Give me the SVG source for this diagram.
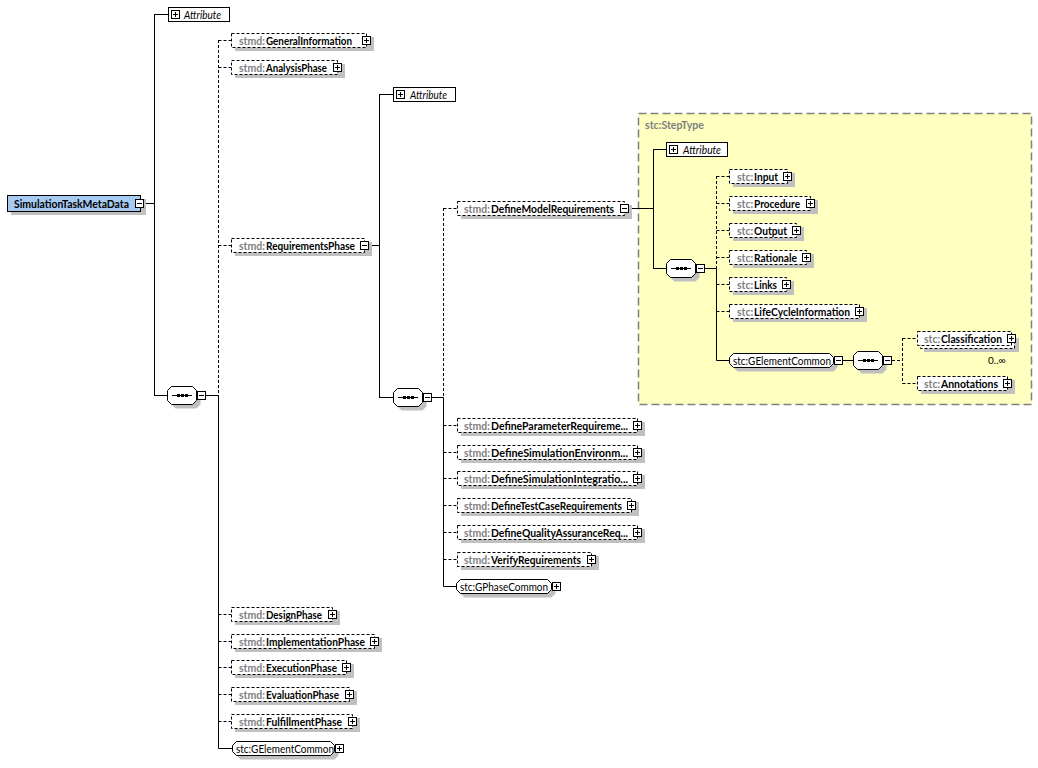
<svg xmlns="http://www.w3.org/2000/svg" xmlns:xlink="http://www.w3.org/1999/xlink" width="1038" height="768" viewBox="0 0 1038 768">
<style>
.ln{stroke:#000;stroke-width:1;fill:none}
.dl{stroke:#000;stroke-width:1;fill:none;stroke-dasharray:3 2}
.sh{fill:#c0c0c0}
.el{fill:#fff;stroke:#000;stroke-width:1;stroke-dasharray:3 2}
.gr{fill:#fff;stroke:#000;stroke-width:1}
.at{fill:#fff;stroke:#000;stroke-width:1}
.t{font-family:Lato,"Noto Sans",sans-serif;font-size:11px;font-weight:bold;fill:#000}
.tn{font-family:Lato,"Noto Sans",sans-serif;font-size:11px;fill:#000}
.ti{font-family:Lato,"Noto Sans",sans-serif;font-size:11px;font-style:italic;fill:#000}
.ns{fill:#808080}
.p{font-family:Lato,"Noto Sans",sans-serif;font-size:10.5px;font-weight:bold;fill:#808080}
</style>
<defs>
<g id="pl"><rect x="0.5" y="0.5" width="8" height="8" fill="#fff" stroke="#000"/><path d="M2 4.5h5M4.5 2v5" stroke="#000" fill="none"/></g>
<g id="mi"><rect x="0.5" y="0.5" width="8" height="8" fill="#fff" stroke="#000"/><path d="M2 4.5h5" stroke="#000" fill="none"/></g>
<g id="seq">
<polygon transform="translate(4,4)" class="sh" points="4.5,0.5 25.5,0.5 29.5,4.5 29.5,14.5 25.5,18.5 4.5,18.5 0.5,14.5 0.5,4.5"/>
<polygon class="gr" points="4.5,0.5 25.5,0.5 29.5,4.5 29.5,14.5 25.5,18.5 4.5,18.5 0.5,14.5 0.5,4.5"/>
<path d="M5 9.5H25" stroke="#000" fill="none"/>
<rect x="10" y="8" width="3" height="3" fill="#000"/><rect x="14" y="8" width="3" height="3" fill="#000"/><rect x="18" y="8" width="3" height="3" fill="#000"/>
<use href="#mi" x="30" y="5"/>
</g>
</defs>
<rect width="1038" height="768" fill="#fff"/>

<g id="steptype-box">
<rect x="638.5" y="113.5" width="393" height="291" fill="#ffffc0" stroke="#808080" stroke-width="1.5" stroke-dasharray="8 4"/>
<text class="t ns" x="645" y="129" textLength="59" lengthAdjust="spacingAndGlyphs">stc:StepType</text>
</g>

<g id="connectors">
<path class="ln" d="M144 203.5H154.5M154.5 14V395.5M154 14.5H168M154 395.5H167"/>
<path class="ln" d="M206 395.5H218.5M218.5 395.5V748.5M218.5 748.5H232"/>
<path class="dl" d="M218.5 40V395.5M218.5 40.5H231M218.5 67.5H231M218.5 245.5H231M218.5 614.5H231M218.5 641.5H231M218.5 667.5H231M218.5 694.5H231M218.5 721.5H231"/>
<path class="ln" d="M369 245.5H379.5M379.5 94V397.5M379 94.5H393M379 397.5H393"/>
<path class="ln" d="M432 397.5H443.5M443.5 397.5V586.5M443.5 586.5H456"/>
<path class="dl" d="M443.5 208V397.5M443.5 208.5H457M443.5 425.5H457M443.5 452.5H457M443.5 478.5H457M443.5 505.5H457M443.5 532.5H457M443.5 559.5H457"/>
<path class="ln" d="M629 208.5H653.5M653.5 149V268.5M653 149.5H666M653 268.5H666"/>
<path class="ln" d="M705 268.5H716.5M716.5 268.5V360.5M716.5 360.5H729"/>
<path class="dl" d="M716.5 176V268.5M716.5 176.5H729M716.5 203.5H729M716.5 230.5H729M716.5 257.5H729M716.5 284.5H729M716.5 311.5H729"/>
<path class="ln" d="M843 360.5H853"/>
<path class="dl" d="M892 360.5H902.5M902.5 338V383.5M902.5 338.5H917M902.5 383.5H917"/>
</g>

<g id="n-SimulationTaskMetaData">
<rect class="sh" x="11" y="199" width="135" height="16"/>
<rect x="7.5" y="195.5" width="133" height="16" fill="#a6caf0" stroke="#000"/>
<text class="t" x="14" y="207.5" textLength="115" lengthAdjust="spacingAndGlyphs">SimulationTaskMetaData</text>
<use href="#mi" x="135" y="199"/>
</g>

<g id="n-Attribute1">
<rect class="at" x="168.5" y="7.5" width="61" height="14"/>
<use href="#pl" x="171" y="10"/>
<text class="ti" x="184" y="18.5" textLength="37" lengthAdjust="spacingAndGlyphs">Attribute</text>
</g>

<g id="n-seq1"><use href="#seq" x="167" y="386"/></g>

<g id="n-GeneralInformation">
<rect class="sh" x="235" y="37" width="139" height="14"/>
<rect class="el" x="231.5" y="33.5" width="135" height="14"/>
<text class="p" x="239" y="44.5">stmd:</text>
<text class="t" x="266" y="44.5" textLength="86" lengthAdjust="spacingAndGlyphs">GeneralInformation</text>
<use href="#pl" x="362" y="36"/>
</g>
<g id="n-AnalysisPhase">
<rect class="sh" x="235" y="64" width="110" height="14"/>
<rect class="el" x="231.5" y="60.5" width="106" height="14"/>
<text class="p" x="239" y="71.5">stmd:</text>
<text class="t" x="266" y="71.5" textLength="61" lengthAdjust="spacingAndGlyphs">AnalysisPhase</text>
<use href="#pl" x="333" y="63"/>
</g>
<g id="n-RequirementsPhase">
<rect class="sh" x="235" y="242" width="137" height="14"/>
<rect class="el" x="231.5" y="238.5" width="133" height="14"/>
<text class="p" x="239" y="249.5">stmd:</text>
<text class="t" x="266" y="249.5" textLength="89" lengthAdjust="spacingAndGlyphs">RequirementsPhase</text>
<use href="#mi" x="360" y="241"/>
</g>
<g id="n-DesignPhase">
<rect class="sh" x="235" y="611" width="105" height="14"/>
<rect class="el" x="231.5" y="607.5" width="101" height="14"/>
<text class="p" x="239" y="618.5">stmd:</text>
<text class="t" x="266" y="618.5" textLength="56" lengthAdjust="spacingAndGlyphs">DesignPhase</text>
<use href="#pl" x="328" y="610"/>
</g>
<g id="n-ImplementationPhase">
<rect class="sh" x="235" y="638" width="147" height="14"/>
<rect class="el" x="231.5" y="634.5" width="143" height="14"/>
<text class="p" x="239" y="645.5">stmd:</text>
<text class="t" x="266" y="645.5" textLength="99" lengthAdjust="spacingAndGlyphs">ImplementationPhase</text>
<use href="#pl" x="370" y="637"/>
</g>
<g id="n-ExecutionPhase">
<rect class="sh" x="235" y="664" width="119" height="14"/>
<rect class="el" x="231.5" y="660.5" width="115" height="14"/>
<text class="p" x="239" y="671.5">stmd:</text>
<text class="t" x="266" y="671.5" textLength="71" lengthAdjust="spacingAndGlyphs">ExecutionPhase</text>
<use href="#pl" x="342" y="663"/>
</g>
<g id="n-EvaluationPhase">
<rect class="sh" x="235" y="691" width="122" height="14"/>
<rect class="el" x="231.5" y="687.5" width="118" height="14"/>
<text class="p" x="239" y="698.5">stmd:</text>
<text class="t" x="266" y="698.5" textLength="73" lengthAdjust="spacingAndGlyphs">EvaluationPhase</text>
<use href="#pl" x="345" y="690"/>
</g>
<g id="n-FulfillmentPhase">
<rect class="sh" x="235" y="718" width="125" height="14"/>
<rect class="el" x="231.5" y="714.5" width="121" height="14"/>
<text class="p" x="239" y="725.5">stmd:</text>
<text class="t" x="266" y="725.5" textLength="76" lengthAdjust="spacingAndGlyphs">FulfillmentPhase</text>
<use href="#pl" x="348" y="717"/>
</g>
<g id="n-GElementCommon1">
<polygon class="sh" transform="translate(4,4)" points="236.5,741.5 330.5,741.5 334.5,745.5 334.5,751.5 330.5,755.5 236.5,755.5 232.5,751.5 232.5,745.5"/>
<polygon class="gr" points="236.5,741.5 330.5,741.5 334.5,745.5 334.5,751.5 330.5,755.5 236.5,755.5 232.5,751.5 232.5,745.5"/>
<text class="tn" x="236" y="752.5" textLength="98" lengthAdjust="spacingAndGlyphs">stc:GElementCommon</text>
<use href="#pl" x="335" y="744"/>
</g>

<g id="n-Attribute2">
<rect class="at" x="393.5" y="87.5" width="62" height="14"/>
<use href="#pl" x="396" y="90"/>
<text class="ti" x="410" y="98.5" textLength="37" lengthAdjust="spacingAndGlyphs">Attribute</text>
</g>
<g id="n-seq2"><use href="#seq" x="393" y="388"/></g>

<g id="n-DefineModelRequirements">
<rect class="sh" x="461" y="205" width="171" height="14"/>
<rect class="el" x="457.5" y="201.5" width="167" height="14"/>
<text class="p" x="464" y="212.5">stmd:</text>
<text class="t" x="491" y="212.5" textLength="123" lengthAdjust="spacingAndGlyphs">DefineModelRequirements</text>
<use href="#mi" x="620" y="204"/>
</g>
<g id="n-DefineParameterRequirements">
<rect class="sh" x="461" y="422" width="184" height="14"/>
<rect class="el" x="457.5" y="418.5" width="180" height="14"/>
<text class="p" x="464" y="429.5">stmd:</text>
<text class="t" x="491" y="429.5" textLength="137" lengthAdjust="spacingAndGlyphs">DefineParameterRequireme...</text>
<use href="#pl" x="633" y="421"/>
</g>
<g id="n-DefineSimulationEnvironment">
<rect class="sh" x="461" y="449" width="184" height="14"/>
<rect class="el" x="457.5" y="445.5" width="180" height="14"/>
<text class="p" x="464" y="456.5">stmd:</text>
<text class="t" x="491" y="456.5" textLength="137" lengthAdjust="spacingAndGlyphs">DefineSimulationEnvironm...</text>
<use href="#pl" x="633" y="448"/>
</g>
<g id="n-DefineSimulationIntegration">
<rect class="sh" x="461" y="475" width="184" height="14"/>
<rect class="el" x="457.5" y="471.5" width="180" height="14"/>
<text class="p" x="464" y="482.5">stmd:</text>
<text class="t" x="491" y="482.5" textLength="137" lengthAdjust="spacingAndGlyphs">DefineSimulationIntegratio...</text>
<use href="#pl" x="633" y="474"/>
</g>
<g id="n-DefineTestCaseRequirements">
<rect class="sh" x="461" y="502" width="178" height="14"/>
<rect class="el" x="457.5" y="498.5" width="174" height="14"/>
<text class="p" x="464" y="509.5">stmd:</text>
<text class="t" x="491" y="509.5" textLength="131" lengthAdjust="spacingAndGlyphs">DefineTestCaseRequirements</text>
<use href="#pl" x="627" y="501"/>
</g>
<g id="n-DefineQualityAssuranceRequirements">
<rect class="sh" x="461" y="529" width="184" height="14"/>
<rect class="el" x="457.5" y="525.5" width="180" height="14"/>
<text class="p" x="464" y="536.5">stmd:</text>
<text class="t" x="491" y="536.5" textLength="137" lengthAdjust="spacingAndGlyphs">DefineQualityAssuranceReq...</text>
<use href="#pl" x="633" y="528"/>
</g>
<g id="n-VerifyRequirements">
<rect class="sh" x="461" y="556" width="138" height="14"/>
<rect class="el" x="457.5" y="552.5" width="134" height="14"/>
<text class="p" x="464" y="563.5">stmd:</text>
<text class="t" x="491" y="563.5" textLength="90" lengthAdjust="spacingAndGlyphs">VerifyRequirements</text>
<use href="#pl" x="587" y="555"/>
</g>
<g id="n-GPhaseCommon">
<polygon class="sh" transform="translate(4,4)" points="460.5,579.5 547.5,579.5 551.5,583.5 551.5,589.5 547.5,593.5 460.5,593.5 456.5,589.5 456.5,583.5"/>
<polygon class="gr" points="460.5,579.5 547.5,579.5 551.5,583.5 551.5,589.5 547.5,593.5 460.5,593.5 456.5,589.5 456.5,583.5"/>
<text class="tn" x="460" y="590.5" textLength="88" lengthAdjust="spacingAndGlyphs">stc:GPhaseCommon</text>
<use href="#pl" x="552" y="582"/>
</g>

<g id="n-Attribute3">
<rect class="at" x="666.5" y="142.5" width="61" height="14"/>
<use href="#pl" x="669" y="145"/>
<text class="ti" x="683" y="153.5" textLength="38" lengthAdjust="spacingAndGlyphs">Attribute</text>
</g>
<g id="n-seq3"><use href="#seq" x="666" y="259"/></g>

<g id="n-Input">
<rect class="sh" x="733" y="173" width="62" height="14"/>
<rect class="el" x="729.5" y="169.5" width="58" height="14"/>
<text class="p" x="737" y="180.5">stc:</text>
<text class="t" x="754" y="180.5" textLength="24" lengthAdjust="spacingAndGlyphs">Input</text>
<use href="#pl" x="783" y="172"/>
</g>
<g id="n-Procedure">
<rect class="sh" x="733" y="200" width="85" height="14"/>
<rect class="el" x="729.5" y="196.5" width="81" height="14"/>
<text class="p" x="737" y="207.5">stc:</text>
<text class="t" x="754" y="207.5" textLength="46" lengthAdjust="spacingAndGlyphs">Procedure</text>
<use href="#pl" x="806" y="199"/>
</g>
<g id="n-Output">
<rect class="sh" x="733" y="227" width="71" height="14"/>
<rect class="el" x="729.5" y="223.5" width="67" height="14"/>
<text class="p" x="737" y="234.5">stc:</text>
<text class="t" x="754" y="234.5" textLength="33" lengthAdjust="spacingAndGlyphs">Output</text>
<use href="#pl" x="792" y="226"/>
</g>
<g id="n-Rationale">
<rect class="sh" x="733" y="254" width="81" height="14"/>
<rect class="el" x="729.5" y="250.5" width="77" height="14"/>
<text class="p" x="737" y="261.5">stc:</text>
<text class="t" x="754" y="261.5" textLength="43" lengthAdjust="spacingAndGlyphs">Rationale</text>
<use href="#pl" x="802" y="253"/>
</g>
<g id="n-Links">
<rect class="sh" x="733" y="281" width="61" height="14"/>
<rect class="el" x="729.5" y="277.5" width="57" height="14"/>
<text class="p" x="737" y="288.5">stc:</text>
<text class="t" x="754" y="288.5" textLength="23" lengthAdjust="spacingAndGlyphs">Links</text>
<use href="#pl" x="782" y="280"/>
</g>
<g id="n-LifeCycleInformation">
<rect class="sh" x="733" y="308" width="134" height="14"/>
<rect class="el" x="729.5" y="304.5" width="130" height="14"/>
<text class="p" x="737" y="315.5">stc:</text>
<text class="t" x="754" y="315.5" textLength="96" lengthAdjust="spacingAndGlyphs">LifeCycleInformation</text>
<use href="#pl" x="855" y="307"/>
</g>
<g id="n-GElementCommon2">
<polygon class="sh" transform="translate(4,4)" points="733.5,353.5 829.5,353.5 833.5,357.5 833.5,363.5 829.5,367.5 733.5,367.5 729.5,363.5 729.5,357.5"/>
<polygon class="gr" points="733.5,353.5 829.5,353.5 833.5,357.5 833.5,363.5 829.5,367.5 733.5,367.5 729.5,363.5 729.5,357.5"/>
<text class="tn" x="733" y="364.5" textLength="98" lengthAdjust="spacingAndGlyphs">stc:GElementCommon</text>
<use href="#mi" x="834" y="356"/>
</g>
<g id="n-seq4"><use href="#seq" x="853" y="351"/></g>

<g id="n-Classification">
<rect class="sh" x="924" y="338" width="95" height="14"/>
<rect class="el" x="920.5" y="334.5" width="94" height="14"/>
<rect class="el" x="917.5" y="331.5" width="94" height="14"/>
<text class="p" x="924" y="342.5">stc:</text>
<text class="t" x="941" y="342.5" textLength="61" lengthAdjust="spacingAndGlyphs">Classification</text>
<use href="#pl" x="1007" y="334"/>
<text class="tn" x="988" y="364" style="font-size:10px">0..∞</text>
</g>
<g id="n-Annotations">
<rect class="sh" x="921" y="380" width="94" height="14"/>
<rect class="el" x="917.5" y="376.5" width="90" height="14"/>
<text class="p" x="924" y="387.5">stc:</text>
<text class="t" x="941" y="387.5" textLength="57" lengthAdjust="spacingAndGlyphs">Annotations</text>
<use href="#pl" x="1003" y="379"/>
</g>
</svg>
